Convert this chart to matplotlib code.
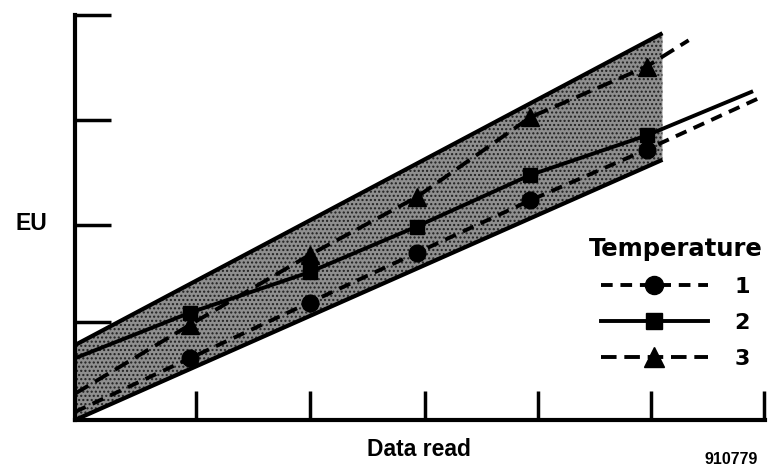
import matplotlib
matplotlib.use("Agg")
import matplotlib.pyplot as plt
from matplotlib.lines import Line2D

# ---- data ----
x_points = [0.95, 2.0, 2.94, 3.94, 4.96]
temp1 = [0.61, 1.16, 1.65, 2.17, 2.67]
temp2 = [1.06, 1.46, 1.91, 2.42, 2.81]
temp3 = [0.94, 1.63, 2.20, 2.99, 3.49]

# line ends (start at the axis, extension past the band)
x_start = -0.06
start1, start2, start3 = 0.08, 0.61, 0.26
end_x1, end1 = 5.95, 3.18
end_x2, end2 = 5.88, 3.24
end_x3, end3 = 5.33, 3.75

band_x = [-0.06, 5.10]
band_low = [0.0, 2.57]
band_high = [0.74, 3.82]

x_ticks = [1.0, 2.0, 3.01, 4.01, 5.0, 5.99]
y_ticks = [0.97, 1.93, 2.96, 4.0]
series_labels = ["1", "2", "3"]

FONT = ["Liberation Sans", "DejaVu Sans"]
LEGFONT = ["DejaVu Sans"]
plt.rcParams["font.family"] = FONT

fig = plt.figure(figsize=(7.7, 4.7), dpi=100)
ax = fig.add_axes([0.0974, 0.1064, 0.896, 0.8617])

# band
ax.fill_between(band_x, band_low, band_high, facecolor="#8f8f8f",
                edgecolor="#202020", hatch="....", linewidth=0, zorder=1)
ax.plot(band_x, band_high, color="black", lw=3, solid_capstyle="butt", zorder=3)
ax.plot(band_x, band_low, color="black", lw=3, solid_capstyle="butt", zorder=3)

lw = 2.8
ax.plot([x_start] + x_points + [end_x1], [start1] + temp1 + [end1],
        color="black", lw=lw, linestyle=(0, (3, 2)), zorder=4)
ax.plot([x_start] + x_points + [end_x2], [start2] + temp2 + [end2],
        color="black", lw=lw, linestyle="-", zorder=4)
ax.plot([x_start] + x_points + [end_x3], [start3] + temp3 + [end3],
        color="black", lw=lw, linestyle=(0, (4, 2)), zorder=4)

ax.plot(x_points, temp1, "o", color="black", ms=12, zorder=5)
ax.plot(x_points, temp2, "s", color="black", ms=10, zorder=5)
ax.plot(x_points, temp3, "^", color="black", ms=13, zorder=5)

ax.set_xlim(-0.06, 6.0)
ax.set_ylim(0, 4)
ax.set_xticks(x_ticks)
ax.set_yticks(y_ticks)
ax.set_xticklabels([])
ax.set_yticklabels([])
ax.tick_params(axis="x", direction="in", length=21, width=2.5, color="black")
ax.tick_params(axis="y", direction="in", length=26, width=2.5, color="black")
for s in ["top", "right"]:
    ax.spines[s].set_visible(False)
for s in ["left", "bottom"]:
    ax.spines[s].set_linewidth(3)
    ax.spines[s].set_capstyle("projecting")
ax.patch.set_alpha(0)

ax.set_xlabel("Data read", fontsize=16.5, fontweight="bold", va="center")
ax.xaxis.set_label_coords(0.499, -0.072)
ax.set_ylabel("EU", fontsize=16.5, fontweight="bold", rotation=0,
              ha="center", va="center")
ax.yaxis.set_label_coords(-0.063, 0.484)

handles = [
    Line2D([], [], color="black", lw=lw, linestyle=(0, (3, 2)), marker="o", ms=13),
    Line2D([], [], color="black", lw=lw, linestyle="-", marker="s", ms=11),
    Line2D([], [], color="black", lw=lw, linestyle=(0, (4, 2)), marker="^", ms=14),
]
leg = ax.legend(handles, series_labels, title="Temperature", frameon=False,
                loc="center", bbox_to_anchor=(0.877, 0.356),
                bbox_transform=fig.transFigure, numpoints=1,
                handlelength=4.8, handletextpad=1.2, labelspacing=0.72,
                borderpad=0, prop={"size": 16, "weight": "bold", "family": LEGFONT},
                title_fontproperties={"size": 17.5, "weight": "bold", "family": LEGFONT})

fig.text(0.950, 0.022, "910779", fontsize=11.5, fontweight="bold",
         ha="center", va="center")

fig.savefig("out.png", dpi=100)
